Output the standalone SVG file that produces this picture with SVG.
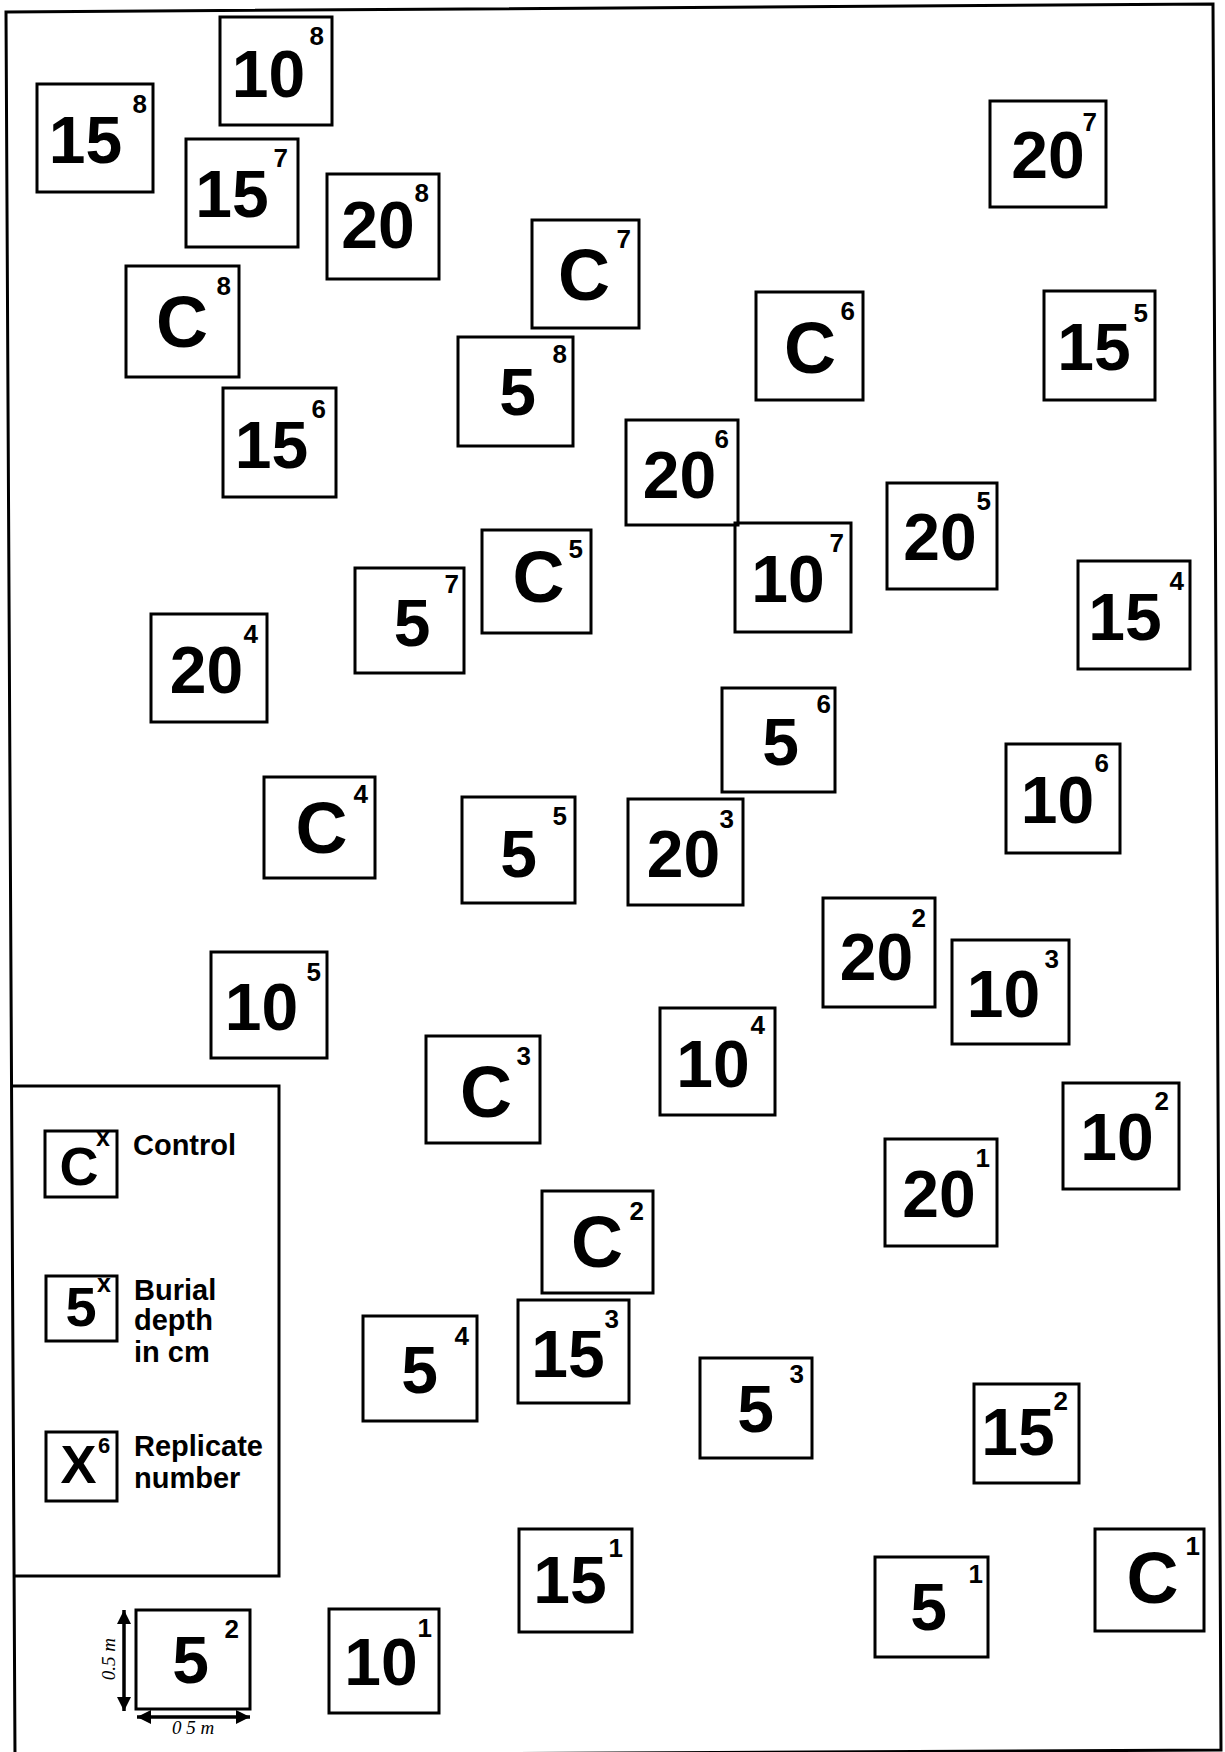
<svg xmlns="http://www.w3.org/2000/svg" width="1225" height="1752" viewBox="0 0 1225 1752">
<style>
.b{fill:none;stroke:#000;stroke-width:3}
.m{font-family:"Liberation Sans",Arial,sans-serif;font-weight:700;font-size:66px;text-anchor:middle;fill:#000}
.c{font-family:"Liberation Sans",Arial,sans-serif;font-weight:700;font-size:72px;text-anchor:middle;fill:#000}
.s{font-family:"Liberation Sans",Arial,sans-serif;font-weight:700;font-size:26px;text-anchor:end;fill:#000}
.lg{font-family:"Liberation Sans",Arial,sans-serif;font-weight:700;font-size:29px;fill:#000}
.li{font-family:"Liberation Sans",Arial,sans-serif;font-weight:700;text-anchor:middle;fill:#000}
.dim{font-family:"Liberation Serif","Times New Roman",serif;font-style:italic;font-size:19px;text-anchor:middle;fill:#000}
.ln{fill:none;stroke:#000;stroke-width:3}
</style>
<defs>
<marker id="ah" viewBox="0 0 10 10" refX="10" refY="5" markerWidth="4" markerHeight="4" orient="auto-start-reverse" markerUnits="strokeWidth"><path d="M0,0 L10,5 L0,10 z" fill="#000"/></marker>
</defs>
<rect width="1225" height="1752" fill="#fff"/>
<g id="frame"><path class="ln" d="M6,12 L1213,4 L1221,1750 L15,1756 Z"/></g>
<g id="legend">
<path class="ln" d="M12,1086 L279,1086 L279,1576 L14,1576"/>
<rect class="b" x="45" y="1131" width="72" height="66"/>
<text class="li" x="79" y="1185" font-size="54">C</text>
<text class="li" x="103" y="1146" font-size="25">x</text>
<text class="lg" x="133" y="1155">Control</text>
<rect class="b" x="46" y="1276" width="71" height="65"/>
<text class="li" x="81" y="1326" font-size="56">5</text>
<text class="li" x="104" y="1292" font-size="25">x</text>
<text class="lg" x="134" y="1300">Burial</text>
<text class="lg" x="134" y="1330">depth</text>
<text class="lg" x="134" y="1362">in cm</text>
<rect class="b" x="46" y="1432" width="71" height="69"/>
<text class="li" x="78.5" y="1483" font-size="54">X</text>
<text class="li" x="104" y="1453" font-size="22">6</text>
<text class="lg" x="134" y="1456">Replicate</text>
<text class="lg" x="134" y="1488">number</text>
</g>
<g id="nodes">
<g id="n10-8"><rect class="b" x="220" y="17" width="112" height="108"/><text class="m" x="268.5" y="97">10</text><text class="s" x="324" y="45">8</text></g>
<g id="n15-8"><rect class="b" x="37" y="84" width="116" height="108"/><text class="m" x="85.5" y="163">15</text><text class="s" x="147" y="113">8</text></g>
<g id="n15-7"><rect class="b" x="186" y="139" width="112" height="108"/><text class="m" x="232" y="217">15</text><text class="s" x="288" y="167">7</text></g>
<g id="n20-8"><rect class="b" x="327" y="174" width="112" height="105"/><text class="m" x="378" y="248">20</text><text class="s" x="429" y="202">8</text></g>
<g id="nC-8"><rect class="b" x="126" y="266" width="113" height="111"/><text class="c" x="182" y="347">C</text><text class="s" x="231" y="295">8</text></g>
<g id="n20-7"><rect class="b" x="990" y="101" width="116" height="106"/><text class="m" x="1048" y="178">20</text><text class="s" x="1097" y="131">7</text></g>
<g id="nC-7"><rect class="b" x="532" y="220" width="107" height="108"/><text class="c" x="584" y="300">C</text><text class="s" x="631" y="248">7</text></g>
<g id="nC-6"><rect class="b" x="756" y="292" width="107" height="108"/><text class="c" x="810" y="373">C</text><text class="s" x="855" y="320">6</text></g>
<g id="n15-5"><rect class="b" x="1044" y="291" width="111" height="109"/><text class="m" x="1094" y="370">15</text><text class="s" x="1148" y="322">5</text></g>
<g id="n5-8"><rect class="b" x="458" y="337" width="115" height="109"/><text class="m" x="517.5" y="415">5</text><text class="s" x="567" y="363">8</text></g>
<g id="n15-6"><rect class="b" x="223" y="388" width="113" height="109"/><text class="m" x="271.5" y="468">15</text><text class="s" x="326" y="418">6</text></g>
<g id="n20-6"><rect class="b" x="626" y="420" width="112" height="105"/><text class="m" x="679.5" y="498">20</text><text class="s" x="729" y="448">6</text></g>
<g id="n20-5"><rect class="b" x="887" y="483" width="110" height="106"/><text class="m" x="940" y="560">20</text><text class="s" x="991" y="510">5</text></g>
<g id="n10-7"><rect class="b" x="735" y="523" width="116" height="109"/><text class="m" x="788" y="602">10</text><text class="s" x="844" y="552">7</text></g>
<g id="nC-5"><rect class="b" x="482" y="530" width="109" height="103"/><text class="c" x="538.5" y="602">C</text><text class="s" x="583" y="558">5</text></g>
<g id="n5-7"><rect class="b" x="355" y="568" width="109" height="105"/><text class="m" x="412" y="646">5</text><text class="s" x="459" y="593">7</text></g>
<g id="n15-4"><rect class="b" x="1078" y="561" width="112" height="108"/><text class="m" x="1125" y="640">15</text><text class="s" x="1184" y="590">4</text></g>
<g id="n20-4"><rect class="b" x="151" y="614" width="116" height="108"/><text class="m" x="206.5" y="693">20</text><text class="s" x="258" y="643">4</text></g>
<g id="n5-6"><rect class="b" x="722" y="688" width="113" height="104"/><text class="m" x="780.5" y="765">5</text><text class="s" x="831" y="713">6</text></g>
<g id="n10-6"><rect class="b" x="1006" y="744" width="114" height="109"/><text class="m" x="1057.5" y="823">10</text><text class="s" x="1109" y="772">6</text></g>
<g id="nC-4"><rect class="b" x="264" y="777" width="111" height="101"/><text class="c" x="321.5" y="853">C</text><text class="s" x="368" y="803">4</text></g>
<g id="n5-5"><rect class="b" x="462" y="797" width="113" height="106"/><text class="m" x="518.5" y="877">5</text><text class="s" x="567" y="825">5</text></g>
<g id="n20-3"><rect class="b" x="628" y="799" width="115" height="106"/><text class="m" x="683.5" y="877">20</text><text class="s" x="734" y="828">3</text></g>
<g id="n20-2"><rect class="b" x="823" y="898" width="112" height="109"/><text class="m" x="876.5" y="980">20</text><text class="s" x="926" y="927">2</text></g>
<g id="n10-3"><rect class="b" x="952" y="940" width="117" height="104"/><text class="m" x="1003.5" y="1017">10</text><text class="s" x="1059" y="968">3</text></g>
<g id="n10-5"><rect class="b" x="211" y="952" width="116" height="106"/><text class="m" x="261.5" y="1030">10</text><text class="s" x="321" y="981">5</text></g>
<g id="n10-4"><rect class="b" x="660" y="1008" width="115" height="107"/><text class="m" x="713" y="1087">10</text><text class="s" x="765" y="1034">4</text></g>
<g id="nC-3"><rect class="b" x="426" y="1036" width="114" height="107"/><text class="c" x="486" y="1117">C</text><text class="s" x="531" y="1065">3</text></g>
<g id="n10-2"><rect class="b" x="1063" y="1083" width="116" height="106"/><text class="m" x="1117" y="1160">10</text><text class="s" x="1169" y="1110">2</text></g>
<g id="n20-1"><rect class="b" x="885" y="1139" width="112" height="107"/><text class="m" x="939" y="1217">20</text><text class="s" x="990" y="1167">1</text></g>
<g id="nC-2"><rect class="b" x="542" y="1191" width="111" height="102"/><text class="c" x="597" y="1267">C</text><text class="s" x="644" y="1220">2</text></g>
<g id="n5-4"><rect class="b" x="363" y="1316" width="114" height="105"/><text class="m" x="419.5" y="1393">5</text><text class="s" x="469" y="1345">4</text></g>
<g id="n15-3"><rect class="b" x="518" y="1300" width="111" height="103"/><text class="m" x="568" y="1377">15</text><text class="s" x="619" y="1328">3</text></g>
<g id="n5-3"><rect class="b" x="700" y="1358" width="112" height="100"/><text class="m" x="755.5" y="1432">5</text><text class="s" x="804" y="1383">3</text></g>
<g id="n15-2"><rect class="b" x="974" y="1384" width="105" height="99"/><text class="m" x="1018" y="1455">15</text><text class="s" x="1068" y="1410">2</text></g>
<g id="n15-1"><rect class="b" x="519" y="1529" width="113" height="103"/><text class="m" x="570" y="1603">15</text><text class="s" x="623" y="1557">1</text></g>
<g id="nC-1"><rect class="b" x="1095" y="1529" width="109" height="102"/><text class="c" x="1152.5" y="1603">C</text><text class="s" x="1200" y="1555">1</text></g>
<g id="n5-1"><rect class="b" x="875" y="1557" width="113" height="100"/><text class="m" x="928.5" y="1630">5</text><text class="s" x="983" y="1583">1</text></g>
<g id="n10-1"><rect class="b" x="329" y="1609" width="110" height="104"/><text class="m" x="381" y="1685">10</text><text class="s" x="432" y="1637">1</text></g>
<g id="n5-2"><rect class="b" x="136" y="1610" width="114" height="99"/><text class="m" x="190.5" y="1683">5</text><text class="s" x="239" y="1638">2</text></g>
</g>
<g id="connectors">
<line x1="124" y1="1610" x2="124" y2="1711" stroke="#000" stroke-width="3.5" marker-start="url(#ah)" marker-end="url(#ah)"/>
<line x1="137" y1="1717" x2="250" y2="1717" stroke="#000" stroke-width="3.5" marker-start="url(#ah)" marker-end="url(#ah)"/>
<text class="dim" x="115" y="1659" transform="rotate(-90 115 1659)">0.5 m</text>
<text class="dim" x="193" y="1734">0 5 m</text>
</g>
</svg>
